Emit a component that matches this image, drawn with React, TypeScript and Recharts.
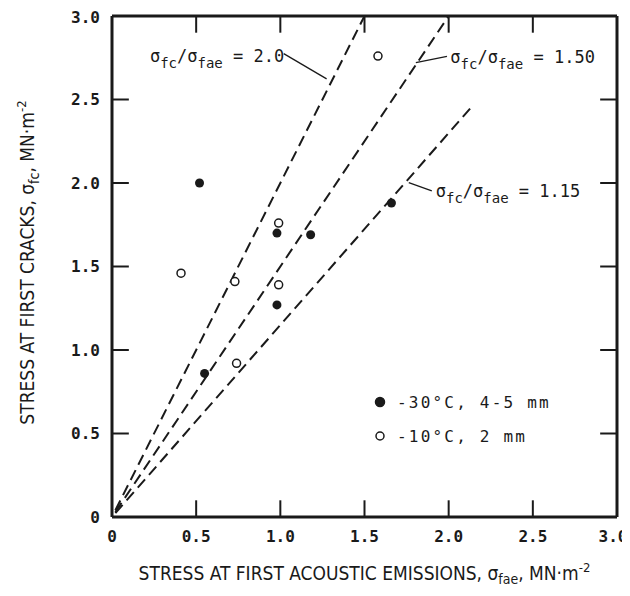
import React from 'react';
import {
  ScatterChart,
  Scatter,
  XAxis,
  YAxis,
  ReferenceLine,
} from 'recharts';

// stress values in MN·m^-2
const coldPoints = [
  { x: 0.52, y: 2.0 },
  { x: 0.55, y: 0.86 },
  { x: 0.98, y: 1.7 },
  { x: 1.18, y: 1.69 },
  { x: 0.98, y: 1.27 },
  { x: 1.66, y: 1.88 },
];

const warmPoints = [
  { x: 0.41, y: 1.46 },
  { x: 0.73, y: 1.41 },
  { x: 0.99, y: 1.76 },
  { x: 0.99, y: 1.39 },
  { x: 0.74, y: 0.92 },
  { x: 1.58, y: 2.76 },
];

// sigma_fc / sigma_fae ratio lines
const ratioLine20 = [{ x: 0.02, y: 0.04 }, { x: 1.5, y: 3.0 }];
const ratioLine150 = [{ x: 0.02, y: 0.03 }, { x: 2.0, y: 3.0 }];
const ratioLine115 = [{ x: 0.02, y: 0.023 }, { x: 2.14, y: 2.46 }];

// leader lines from the labels to the ratio lines
const leader20 = [{ x: 1.02, y: 2.755 }, { x: 1.16, y: 2.735 }, { x: 1.275, y: 2.6 }];
const leader150 = [{ x: 1.99, y: 2.755 }, { x: 1.88, y: 2.745 }, { x: 1.805, y: 2.715 }];
const leader115 = [{ x: 1.9, y: 1.955 }, { x: 1.82, y: 1.975 }, { x: 1.763, y: 2.006 }];

const ratioLabels = [
  { x: 0.225, y: 2.725, value: '2.0' },
  { x: 2.01, y: 2.72, value: '1.50' },
  { x: 1.923, y: 1.916, value: '1.15' },
];

const ticks = [0, 0.5, 1.0, 1.5, 2.0, 2.5, 3.0];
const innerTicks = [0.5, 1.0, 1.5, 2.0, 2.5];
const TICK_LEN = 0.1; // inward tick length, in axis units

const legendItems = [
  { label: '-30°C, 4-5 mm', filled: true },
  { label: '-10°C, 2 mm', filled: false },
];

const INK = '#1a1a1a';
const MONO = "'DejaVu Sans Mono', monospace";
const NARROW = "'Liberation Sans Narrow', 'DejaVu Sans Condensed', sans-serif";

const fmt = (v: number) => (v === 0 ? '0' : v.toFixed(1));

const dash = { stroke: INK, strokeWidth: 2, strokeDasharray: '11 6' };
const leaderStyle = { stroke: INK, strokeWidth: 1.3 };

const RatioLabel = (props: any) => {
  const { cx, cy, payload } = props;
  return (
    <text x={cx} y={cy} fontFamily={MONO} fontSize={17} fill={INK}>
      <tspan>σ</tspan>
      <tspan dy={6} fontSize={14}>fc</tspan>
      <tspan dy={-6}>/σ</tspan>
      <tspan dy={6} fontSize={14}>fae</tspan>
      <tspan dy={-6}>{` = ${payload.value}`}</tspan>
    </text>
  );
};

const XTick = (props: any) => {
  const { x, y, payload } = props;
  const shift = payload.value === 3 ? -4 : 0;
  return (
    <text
      x={x + shift}
      y={y}
      dy="0.71em"
      textAnchor="middle"
      fontFamily={MONO}
      fontSize={16}
      fontWeight="bold"
      fill={INK}
    >
      {fmt(payload.value)}
    </text>
  );
};

const YTitle = (props: any) => {
  const vb = props.viewBox;
  const cx = vb.x + 12;
  const cy = vb.y + vb.height / 2 - 4;
  return (
    <text
      transform={`translate(${cx},${cy}) rotate(-90)`}
      textAnchor="middle"
      fontFamily={NARROW}
      fontSize={19}
      fill={INK}
    >
      <tspan>STRESS AT FIRST CRACKS, σ</tspan>
      <tspan dy={5} fontSize={14}>fc</tspan>
      <tspan dy={-5}>,  MN·m</tspan>
      <tspan dy={-8} fontSize={13}>-2</tspan>
    </text>
  );
};

const XTitle = (props: any) => {
  const vb = props.viewBox;
  const cx = vb.x + vb.width / 2;
  const cy = vb.y + 63;
  return (
    <text x={cx} y={cy} textAnchor="middle" fontFamily={NARROW} fontSize={19} fill={INK}>
      <tspan>STRESS AT FIRST ACOUSTIC EMISSIONS, σ</tspan>
      <tspan dy={4} fontSize={14}>fae</tspan>
      <tspan dy={-4}>,  MN·m</tspan>
      <tspan dy={-8} fontSize={13}>-2</tspan>
    </text>
  );
};

const LegendBox = () => (
  <div
    style={{
      position: 'absolute',
      left: 365,
      top: 377,
      fontFamily: MONO,
      fontSize: 16,
      color: INK,
    }}
  >
    {legendItems.map((it) => (
      <div key={it.label} style={{ display: 'flex', alignItems: 'center', height: 34 }}>
        <svg width={14} height={14} style={{ marginRight: 10 }}>
          <circle
            cx={7}
            cy={7}
            r={it.filled ? 4.5 : 4}
            fill={it.filled ? INK : '#fff'}
            stroke={INK}
            strokeWidth={1.5}
          />
        </svg>
        <span style={{ letterSpacing: 2.2, whiteSpace: 'pre' }}>{it.label}</span>
      </div>
    ))}
  </div>
);

const axisLine = { stroke: INK, strokeWidth: 3 };
const tickText = { fontFamily: MONO, fontSize: 16, fill: INK, fontWeight: 'bold' as const };

const App = () => {
  return (
    <div style={{ position: 'relative', width: 622, height: 580 }}>
      <ScatterChart
        width={622}
        height={580}
        margin={{ top: 7, right: 12, bottom: 31, left: 14 }}
        style={{ background: '#fff' }}
      >
        <XAxis
          type="number"
          dataKey="x"
          domain={[0, 3]}
          ticks={ticks}
          height={40}
          axisLine={axisLine}
          tickLine={false}
          tickSize={0}
          tickMargin={14}
          tick={<XTick />}
          allowDataOverflow
          label={<XTitle />}
        />
        <XAxis
          xAxisId="top"
          orientation="top"
          type="number"
          dataKey="x"
          domain={[0, 3]}
          ticks={ticks}
          height={1}
          axisLine={axisLine}
          tickLine={false}
          tick={false}
        />
        <YAxis
          type="number"
          dataKey="y"
          domain={[0, 3]}
          ticks={ticks}
          tickFormatter={fmt}
          width={90}
          axisLine={axisLine}
          tickLine={false}
          tickSize={0}
          tickMargin={12}
          tick={tickText}
          allowDataOverflow
          label={<YTitle />}
        />
        <YAxis
          yAxisId="right"
          orientation="right"
          type="number"
          dataKey="y"
          domain={[0, 3]}
          ticks={ticks}
          width={1}
          axisLine={axisLine}
          tickLine={false}
          tick={false}
        />

        {/* inward tick marks on all four sides */}
        {innerTicks.map((t) => (
          <ReferenceLine key={`b${t}`} segment={[{ x: t, y: 0 }, { x: t, y: TICK_LEN }]} stroke={INK} strokeWidth={2} />
        ))}
        {innerTicks.map((t) => (
          <ReferenceLine key={`t${t}`} segment={[{ x: t, y: 3 }, { x: t, y: 3 - TICK_LEN }]} stroke={INK} strokeWidth={2} />
        ))}
        {innerTicks.map((t) => (
          <ReferenceLine key={`l${t}`} segment={[{ x: 0, y: t }, { x: TICK_LEN, y: t }]} stroke={INK} strokeWidth={2} />
        ))}
        {innerTicks.map((t) => (
          <ReferenceLine key={`r${t}`} segment={[{ x: 3, y: t }, { x: 3 - TICK_LEN, y: t }]} stroke={INK} strokeWidth={2} />
        ))}

        <Scatter data={ratioLine20} line={dash} shape={() => null} isAnimationActive={false} />
        <Scatter data={ratioLine150} line={dash} shape={() => null} isAnimationActive={false} />
        <Scatter data={ratioLine115} line={dash} shape={() => null} isAnimationActive={false} />

        <Scatter data={leader20} line={leaderStyle} lineType="fitting" shape={() => null} isAnimationActive={false} />
        <Scatter data={leader150} line={leaderStyle} lineType="fitting" shape={() => null} isAnimationActive={false} />
        <Scatter data={leader115} line={leaderStyle} lineType="fitting" shape={() => null} isAnimationActive={false} />

        <Scatter data={ratioLabels} shape={<RatioLabel />} isAnimationActive={false} />

        <Scatter
          name="-30°C, 4-5 mm"
          data={coldPoints}
          shape={(p: any) => <circle cx={p.cx} cy={p.cy} r={4.5} fill={INK} />}
          isAnimationActive={false}
        />
        <Scatter
          name="-10°C, 2 mm"
          data={warmPoints}
          shape={(p: any) => (
            <circle cx={p.cx} cy={p.cy} r={4} fill="#fff" stroke={INK} strokeWidth={1.5} />
          )}
          isAnimationActive={false}
        />
      </ScatterChart>
      <LegendBox />
    </div>
  );
};

export default App;
